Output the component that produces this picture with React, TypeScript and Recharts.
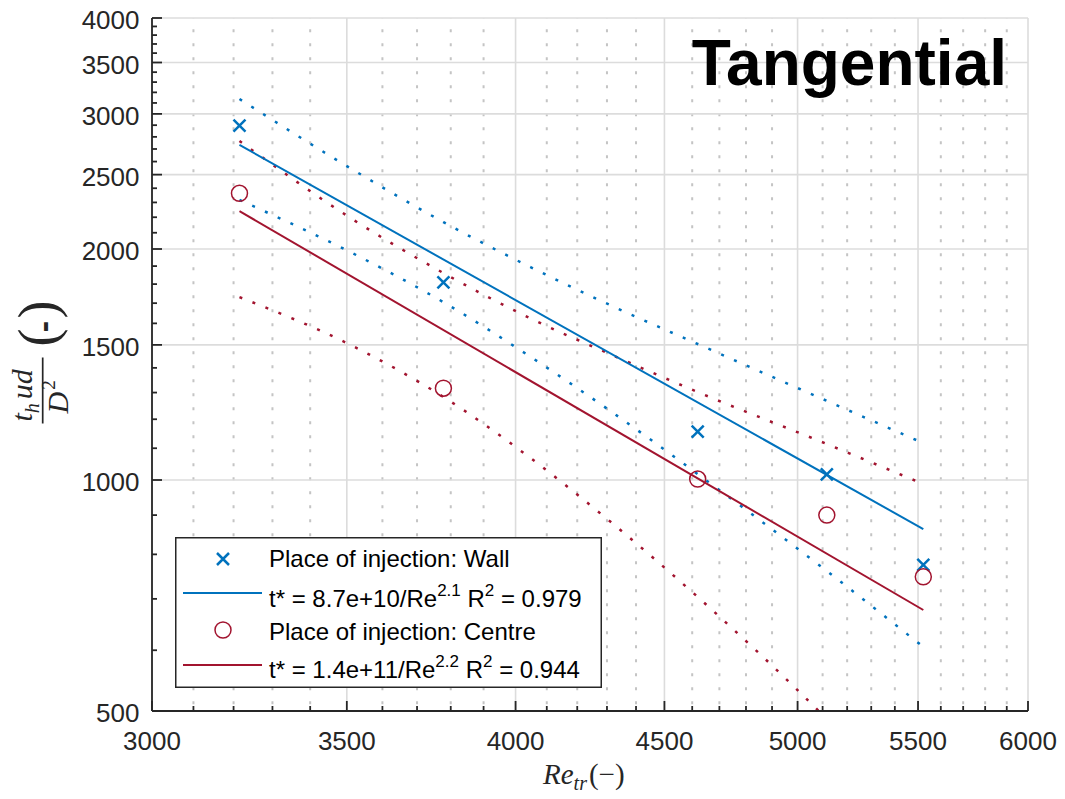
import { CartesianGrid, ComposedChart, Customized, Legend, Line, Scatter, XAxis, YAxis } from "recharts";

// measured points
const reWall = [3215, 3778, 4620, 5117, 5523];
const tWall = [2896, 1810, 1156, 1017, 775];
const reCentre = [3215, 3778, 4620, 5117, 5523];
const tCentre = [2364, 1317, 1003, 900, 748];

// power-law fits (straight in log-log, so the end points are enough)
const fitRe = [3215, 5523];
const fitWall = [2733, 863];
const fitCentre = [2241, 677];

// confidence bounds of the fits
const boundRe = [3215, 3515, 3778, 4049, 4317, 4620, 5117, 5523];
const wallUpper = [3137, 2540, 2168, 1893, 1686, 1504, 1268, 1117];
const wallLower = [2317, 1976, 1705, 1446, 1226, 1018, 761, 606];
const centreUpper = [2766, 2188, 1861, 1623, 1455, 1302, 1114, 988];
const centreLower = [1731, 1496, 1283, 1067, 879, 704, 488, 360];

const xMajor = [3000, 3500, 4000, 4500, 5000, 5500, 6000];
const yMajor = [500, 1000, 1500, 2000, 2500, 3000, 3500, 4000];

const legendWall = "Place of injection: Wall";
const legendCentre = "Place of injection: Centre";
const wallFit = { coef: "8.7e+10", exp: "2.1", r2: "0.979" };
const centreFit = { coef: "1.4e+11", exp: "2.2", r2: "0.944" };

const BLUE = "#0072BD";
const RED = "#A2142F";
const AXIS = "#262626";
const SANS = "'Liberation Sans', Arial, Helvetica, sans-serif";
const SERIF = "'Liberation Serif', 'Times New Roman', serif";

const steps = (from: number, to: number, step: number) => {
  const out: number[] = [];
  for (let v = from; v <= to; v += step) out.push(v);
  return out;
};
const xTicks = steps(3000, 6000, 100);
const yTicks = steps(500, 4000, 100);
const xMinor = xTicks.filter((v) => v % 500 !== 0);

const pairs = (xs: number[], ys: number[]) => xs.map((re, i) => ({ re, t: ys[i] }));

const XTick = (props: any) => {
  const { x, y, payload } = props;
  const major = payload.value % 500 === 0;
  return (
    <g>
      <line x1={x} x2={x} y1={y} y2={y - (major ? 10 : 5)} stroke={AXIS} strokeWidth={1.8} />
      {major && (
        <text x={x} y={y + 39} textAnchor="middle" fontFamily={SANS} fontSize={26} fill={AXIS}>
          {payload.value}
        </text>
      )}
    </g>
  );
};

const YTick = (props: any) => {
  const { x, y, payload } = props;
  const major = payload.value % 500 === 0;
  return (
    <g>
      <line x1={x} x2={x + (major ? 10 : 5)} y1={y} y2={y} stroke={AXIS} strokeWidth={1.8} />
      {major && (
        <text x={x - 12.5} y={y + 11} textAnchor="end" fontFamily={SANS} fontSize={26} fill={AXIS}>
          {payload.value}
        </text>
      )}
    </g>
  );
};

const Cross = ({ cx, cy }: any) => (
  <path
    d={`M${cx - 6},${cy - 6}L${cx + 6},${cy + 6}M${cx - 6},${cy + 6}L${cx + 6},${cy - 6}`}
    stroke={BLUE}
    strokeWidth={2.5}
    fill="none"
  />
);

const Ring = ({ cx, cy }: any) => <circle cx={cx} cy={cy} r={8} stroke={RED} strokeWidth={1.5} fill="none" />;

const FitText = ({ y, fit }: { y: number; fit: typeof wallFit }) => (
  <text x={94} y={y} fontFamily={SANS} fontSize={24} fill="#000">
    {`t* = ${fit.coef}/Re`}
    <tspan dy={-11} fontSize={17}>{fit.exp}</tspan>
    <tspan dy={11}> R</tspan>
    <tspan dy={-11} fontSize={17}>2</tspan>
    <tspan dy={11}> = {fit.r2}</tspan>
  </text>
);

const LegendBox = () => (
  <svg width={427} height={151} style={{ display: "block" }}>
    <rect x={0.75} y={0.75} width={425.5} height={149.5} fill="#fff" stroke={AXIS} strokeWidth={1.5} />
    <Cross cx={48} cy={22} />
    <text x={94} y={30} fontFamily={SANS} fontSize={24} fill="#000">{legendWall}</text>
    <line x1={8} x2={87} y1={56} y2={56} stroke={BLUE} strokeWidth={2} />
    <FitText y={70} fit={wallFit} />
    <Ring cx={48} cy={93} />
    <text x={94} y={103} fontFamily={SANS} fontSize={24} fill="#000">{legendCentre}</text>
    <line x1={8} x2={87} y1={128} y2={128} stroke={RED} strokeWidth={2} />
    <FitText y={141} fit={centreFit} />
  </svg>
);

const Annotations = () => (
  <g>
    <text x={1007} y={85} textAnchor="end" fontFamily={SANS} fontWeight="bold" fontSize={64} fill="#000">
      Tangential
    </text>
    {/* x label: Re_tr (−) */}
    <text x={543} y={784} fontFamily={SERIF} fontSize={29} fill={AXIS}>
      <tspan fontStyle="italic">Re</tspan>
      <tspan fontStyle="italic" fontSize={20} dy={6}>tr</tspan>
      <tspan dy={-6} dx={2}>(−)</tspan>
    </text>
    {/* y label: t_h u d / D^2 (-) */}
    <g transform="translate(42.7,390.5) rotate(-90)" fill={AXIS}>
      <line x1={-33} x2={33} y1={0} y2={0} stroke={AXIS} strokeWidth={1.7} />
      <text x={-31} y={-11} fontFamily={SERIF} fontStyle="italic" fontSize={30}>
        t<tspan fontSize={20} dy={7}>h</tspan>
        <tspan dy={-7} dx={4}>ud</tspan>
      </text>
      <text x={-23} y={25} fontFamily={SERIF} fontStyle="italic" fontSize={30}>
        D<tspan fontSize={19} dy={-13} dx={2} fontStyle="normal">2</tspan>
      </text>
      <text x={53} y={13} textAnchor="middle" fontFamily={SERIF} fontSize={54}>(</text>
      <text x={64} y={12} textAnchor="middle" fontFamily={SANS} fontWeight="bold" fontSize={34}>-</text>
      <text x={81} y={13} textAnchor="middle" fontFamily={SERIF} fontSize={54}>)</text>
    </g>
  </g>
);

export default function App() {
  return (
    <div style={{ position: "absolute", left: 0, top: 0 }}>
      <ComposedChart width={1065} height={799} margin={{ top: 18, right: 37, left: 0, bottom: 0 }}>
        <CartesianGrid
          horizontal={false}
          verticalValues={xMinor}
          stroke="#c4c4c4"
          strokeWidth={2}
          strokeDasharray="3 11"
          strokeDashoffset={2.8}
        />
        <CartesianGrid horizontalValues={yMajor} verticalValues={xMajor} stroke="#dcdcdc" strokeWidth={1.6} />
        <XAxis
          type="number"
          dataKey="re"
          scale="log"
          domain={[3000, 6000]}
          allowDataOverflow
          ticks={xTicks}
          interval={0}
          tickSize={0}
          tickMargin={0}
          tick={XTick}
          axisLine={{ stroke: AXIS, strokeWidth: 1.8 }}
          height={88}
        />
        <YAxis
          type="number"
          dataKey="t"
          scale="log"
          domain={[500, 4000]}
          allowDataOverflow
          ticks={yTicks}
          interval={0}
          tickSize={0}
          tickMargin={0}
          tick={YTick}
          axisLine={{ stroke: AXIS, strokeWidth: 1.8 }}
          width={152}
        />
        <Line data={pairs(boundRe, wallUpper)} dataKey="t" type="monotone" stroke={BLUE} strokeWidth={2.5} strokeDasharray="3 11" dot={false} isAnimationActive={false} />
        <Line data={pairs(boundRe, wallLower)} dataKey="t" type="monotone" stroke={BLUE} strokeWidth={2.5} strokeDasharray="3 11" dot={false} isAnimationActive={false} />
        <Line data={pairs(boundRe, centreUpper)} dataKey="t" type="monotone" stroke={RED} strokeWidth={2.5} strokeDasharray="3 11" dot={false} isAnimationActive={false} />
        <Line data={pairs(boundRe, centreLower)} dataKey="t" type="monotone" stroke={RED} strokeWidth={2.5} strokeDasharray="3 11" dot={false} isAnimationActive={false} />
        <Line data={pairs(fitRe, fitWall)} dataKey="t" type="linear" stroke={BLUE} strokeWidth={2} dot={false} isAnimationActive={false} />
        <Line data={pairs(fitRe, fitCentre)} dataKey="t" type="linear" stroke={RED} strokeWidth={2} dot={false} isAnimationActive={false} />
        <Scatter data={pairs(reWall, tWall)} dataKey="t" shape={Cross} isAnimationActive={false} />
        <Scatter data={pairs(reCentre, tCentre)} dataKey="t" shape={Ring} isAnimationActive={false} />
        <Legend
          content={LegendBox}
          layout="horizontal"
          verticalAlign="middle"
          align="center"
          wrapperStyle={{ left: 175, top: 537, width: 427, height: 151 }}
        />
        <Customized component={<Annotations />} />
      </ComposedChart>
    </div>
  );
}
